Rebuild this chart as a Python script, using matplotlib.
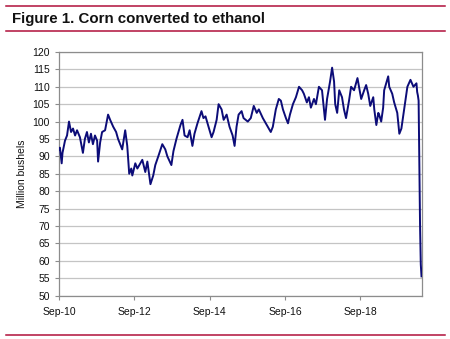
import matplotlib
matplotlib.use("Agg")
import matplotlib.pyplot as plt
import matplotlib.dates as mdates
from matplotlib.lines import Line2D
import pandas as pd

plt.rcParams['font.family'] = ['Liberation Sans', 'DejaVu Sans']

# weekly corn grind for ethanol, million bushels (sampled)
dates = [
    "2010-09-01", "2010-09-10", "2010-09-27", "2010-10-05", "2010-10-19", "2010-10-29",
    "2010-11-18", "2010-12-07", "2010-12-27", "2011-01-15", "2011-02-04", "2011-02-23",
    "2011-03-23", "2011-04-21", "2011-05-10", "2011-05-30", "2011-06-18", "2011-07-08",
    "2011-07-27", "2011-08-16", "2011-09-06", "2011-09-15", "2011-10-05", "2011-10-24",
    "2011-11-22", "2011-12-21", "2012-01-10", "2012-02-09", "2012-03-08", "2012-03-27",
    "2012-05-06", "2012-06-04", "2012-06-24", "2012-07-13", "2012-08-02", "2012-08-12",
    "2012-09-10", "2012-09-30", "2012-11-17", "2012-12-16", "2013-01-05", "2013-02-04",
    "2013-03-03", "2013-03-23", "2013-04-21", "2013-05-30", "2013-06-28", "2013-07-18",
    "2013-08-26", "2013-09-15", "2013-10-14", "2013-11-22", "2013-12-12", "2014-01-01",
    "2014-01-30", "2014-02-19", "2014-03-18", "2014-04-07", "2014-05-06", "2014-06-14",
    "2014-07-03", "2014-07-23", "2014-08-21", "2014-09-20", "2014-10-09", "2014-11-08",
    "2014-11-27", "2014-12-26", "2015-01-15", "2015-02-13", "2015-03-13", "2015-04-12",
    "2015-05-01", "2015-05-20", "2015-06-09", "2015-07-08", "2015-07-27", "2015-09-06",
    "2015-10-05", "2015-11-03", "2015-12-02", "2015-12-22", "2016-01-30", "2016-02-28",
    "2016-04-16", "2016-05-06", "2016-06-04", "2016-07-03", "2016-07-23", "2016-08-12",
    "2016-09-10", "2016-09-30", "2016-10-19", "2016-11-17", "2016-12-16", "2017-01-15",
    "2017-02-14", "2017-03-03", "2017-04-01", "2017-04-21", "2017-05-10", "2017-06-09",
    "2017-06-28", "2017-07-27", "2017-08-26", "2017-09-24", "2017-10-14", "2017-11-12",
    "2017-12-02", "2017-12-21", "2018-01-01", "2018-01-20", "2018-02-09", "2018-03-08",
    "2018-03-27", "2018-04-16", "2018-05-15", "2018-06-04", "2018-07-03", "2018-08-05",
    "2018-08-20", "2018-09-10", "2018-10-09", "2018-10-28", "2018-11-17", "2018-12-07",
    "2019-01-05", "2019-01-15", "2019-02-04", "2019-02-23", "2019-03-03", "2019-03-23",
    "2019-04-11", "2019-04-21", "2019-05-30", "2019-06-09", "2019-07-08", "2019-07-27",
    "2019-08-26", "2019-09-15", "2019-10-05", "2019-11-03", "2019-12-02", "2020-01-01",
    "2020-01-30", "2020-02-28", "2020-03-06", "2020-03-13", "2020-03-20", "2020-03-27",
    "2020-04-03", "2020-04-10", "2020-04-17",
]
bushels = [
    92, 92.5, 88, 91, 93, 94.5,
    96, 100, 97, 98, 96, 97.5,
    95.5, 91, 95, 97, 94, 96.5,
    93.5, 96, 94.5, 88.5, 94, 97,
    97.5, 102, 100.5, 98.5, 97, 95,
    92, 97.5, 93, 85, 86.5, 84.5,
    88, 86.5, 89, 85.5, 88.5, 82,
    84.5, 87.5, 90, 93.5, 92, 90,
    87.5, 91.5, 95, 99, 100.5, 96,
    95.5, 97.5, 93, 96.5, 99.5, 103,
    101, 101.5, 98.5, 95.5, 97, 100.5,
    105, 103.5, 100.5, 102, 98.5, 96,
    93, 98.5, 102, 103, 101, 100,
    101, 104.5, 102.5, 103.5, 101, 99.5,
    97, 98.5, 103.5, 106.5, 106, 103.5,
    101, 99.5, 102, 105, 107, 110,
    109, 108, 105.5, 107, 104, 106.5,
    105, 110, 109, 100.5, 106.5, 111.5,
    115.5, 111.5, 105, 102.5, 109, 107,
    103.5, 101, 106, 110, 109, 112.5,
    110, 106.5, 109, 110.5, 108, 104.5,
    107, 103.5, 99, 102.5, 102, 100,
    104, 109, 113, 110, 108, 105.5,
    102.5, 96.5, 98, 104, 110, 112,
    110, 111, 108.5, 107.5, 106, 88,
    70, 59, 55.5,
]
x_ticks = ["2010-09-01", "2012-09-01", "2014-09-01", "2016-09-01", "2018-09-01"]

dt = pd.to_datetime(dates)
tick_dt = pd.to_datetime(x_ticks)

red = "#b0103a"
fig = plt.figure(figsize=(4.5, 3.39), dpi=100)

# red rules above/below the title and at the bottom
for yy in (1 - 6 / 339, 1 - 31 / 339, 1 - 335 / 339):
    fig.add_artist(Line2D([6 / 450, 445 / 450], [yy, yy], color=red, lw=1.1,
                          transform=fig.transFigure))
fig.text(12 / 450, 1 - 19 / 339, "Figure 1. Corn converted to ethanol",
         fontsize=10.8, fontweight='bold', va='center', ha='left', color='#111111')

ax = fig.add_axes([59 / 450, 1 - 295.5 / 339, (421.5 - 59) / 450, (295.5 - 52) / 339])
ax.plot(dt, bushels, color='#0c0c78', lw=1.4, zorder=3)

ax.set_ylim(50, 120)
ax.set_yticks(range(50, 121, 5))
ax.set_xlim(dt[0], dt[-1])
ax.set_xticks(tick_dt)
ax.xaxis.set_major_formatter(mdates.DateFormatter('%b-%y'))

ax.grid(axis='y', color='#c4c4c4', lw=0.9)
ax.set_axisbelow(True)
for s in ax.spines.values():
    s.set_color('#8c8c8c')
    s.set_linewidth(0.9)
ax.tick_params(axis='both', colors='#8c8c8c', labelcolor='#111111', labelsize=7.5,
               length=3, width=0.8)
ax.tick_params(axis='x', pad=5)
ax.set_ylabel("Million bushels", fontsize=7.5, color='#111111', labelpad=4)

fig.savefig("out.png", dpi=100)
